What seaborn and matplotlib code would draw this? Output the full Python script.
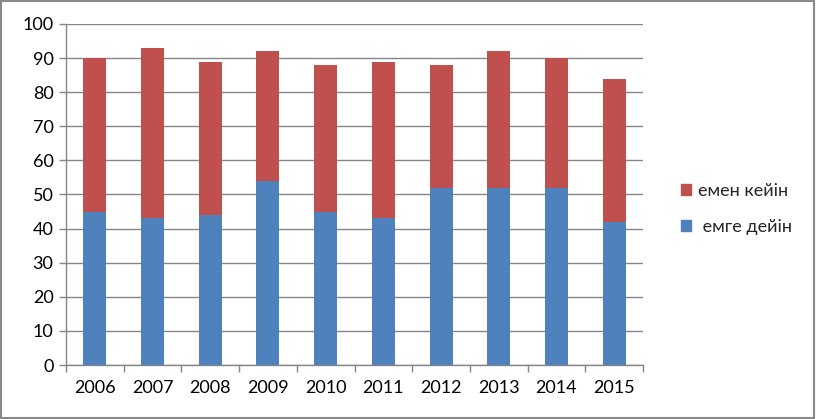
import numpy as np
import pandas as pd
import matplotlib
matplotlib.use("Agg")
import matplotlib.pyplot as plt
import matplotlib.patches as mpatches
import seaborn as sns

years = ["2006", "2007", "2008", "2009", "2010", "2011", "2012", "2013", "2014", "2015"]
before = [45, 43, 44, 54, 45, 43, 52, 52, 52, 42]   # емге дейін
after = [45, 50, 45, 38, 43, 46, 36, 40, 38, 42]    # емен кейін
label_before = "емге дейін"
label_after = "емен кейін"

blue = "#4F81BD"
red = "#C0504D"
grid_c = "#868686"

sns.set_theme(style="white")
plt.rcParams["font.family"] = ["Lato", "DejaVu Sans"]

df = pd.DataFrame({"year": years, "before": before, "after": after})
df["total"] = df["before"] + df["after"]

fig = plt.figure(figsize=(8.16, 4.19), dpi=100)
ax = fig.add_axes([66 / 816, 54 / 419, (643 - 66) / 816, (365 - 24) / 419])

# stacked: total in red, bottom part in blue over it
sns.barplot(data=df, x="year", y="total", color=red, width=0.4, saturation=1,
            linewidth=0, ax=ax, zorder=3)
sns.barplot(data=df, x="year", y="before", color=blue, width=0.4, saturation=1,
            linewidth=0, ax=ax, zorder=4)

ax.set_ylim(0, 100)
ax.set_xlim(-0.5, len(years) - 0.5)
ax.set_yticks(np.arange(0, 101, 10))
ax.set_xlabel("")
ax.set_ylabel("")
ax.yaxis.grid(True, color=grid_c, linewidth=1.0, zorder=0)
ax.set_axisbelow(True)

for s in ["top", "right"]:
    ax.spines[s].set_visible(False)
for s in ["left", "bottom"]:
    ax.spines[s].set_color(grid_c)
    ax.spines[s].set_linewidth(1.0)

ax.tick_params(axis="y", length=5, color=grid_c, width=1.0, labelsize=13, labelcolor="black", pad=4, left=True)
ax.tick_params(axis="x", which="major", length=0, labelsize=13, labelcolor="black", pad=11)
ax.set_xticks(np.arange(-0.5, len(years), 1.0), minor=True)
ax.tick_params(axis="x", which="minor", length=5, color=grid_c, width=1.0, bottom=True)

handles = [mpatches.Patch(color=red, label=label_after),
           mpatches.Patch(color=blue, label=" " + label_before)]
fig.legend(handles=handles, loc="center left", bbox_to_anchor=(668 / 816, 1 - 209 / 419),
           frameon=False, fontsize=13, handlelength=0.6, handleheight=0.6,
           handletextpad=0.35, labelspacing=1.1, borderpad=0.2)

fig.patches.append(mpatches.Rectangle((0.001, 0.002), 0.996, 0.995, transform=fig.transFigure,
                                      fill=False, edgecolor="#898989", linewidth=1.5))

fig.savefig("out.png", dpi=100)
